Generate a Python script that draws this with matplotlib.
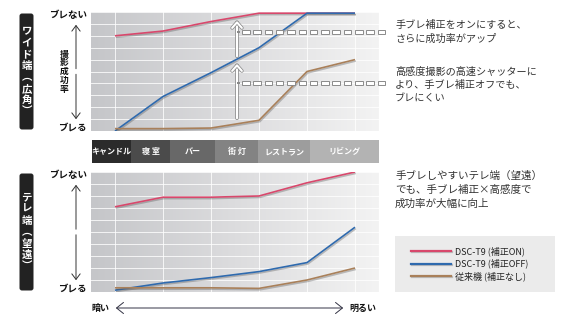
import matplotlib
matplotlib.use("Agg")
import matplotlib.pyplot as plt
import matplotlib.patheffects as pe
from matplotlib.colors import LinearSegmentedColormap
from matplotlib.patches import FancyBboxPatch, Rectangle, FancyArrowPatch
import numpy as np

plt.rcParams['font.family'] = ['Noto Sans CJK JP', 'DejaVu Sans']

# ---------------- data ----------------
scenes = ["キャンドル", "寝 室", "バー", "街 灯", "レストラン", "リビング"]
series_names = ["DSC-T9 (補正ON)", "DSC-T9 (補正OFF)", "従来機 (補正なし)"]
wide_on = [8.0, 8.4, 9.2, 9.9, 9.9, 9.9]
wide_off = [0.0, 2.9, 4.9, 7.0, 9.9, 9.9]
wide_old = [0.2, 0.2, 0.25, 0.9, 5.0, 6.0]
tele_on = [7.1, 7.9, 7.9, 8.0, 9.1, 10.0]
tele_off = [0.15, 0.75, 1.2, 1.7, 2.45, 5.4]
tele_old = [0.35, 0.35, 0.35, 0.3, 1.0, 2.0]

colors = ["#d8486c", "#2f6aae", "#a9805a"]
band_colors = ["#2b2b2b", "#4b4b4b", "#686868", "#838383", "#9d9d9d", "#b3b3b3"]

W, H = 566, 321
fig = plt.figure(figsize=(W / 100, H / 100), dpi=100)
fig.patch.set_facecolor("white")

def rect(l, t, r, b):
    return [l / W, (H - b) / H, (r - l) / W, (b - t) / H]

cmap = LinearSegmentedColormap.from_list("bg", ["#c5c6c9", "#dcdcde", "#f3f3f3"])

def make_plot(box, series):
    ax = fig.add_axes(rect(*box))
    ax.set_xlim(-0.5, 5.5)
    ax.set_ylim(0, 10)
    grad = np.linspace(0, 1, 256).reshape(1, -1)
    ax.imshow(grad, cmap=cmap, aspect="auto", extent=[0, 1, 0, 1],
              transform=ax.transAxes, zorder=0)
    ax.set_xticks(range(6))
    ax.set_yticks(range(11))
    ax.grid(True, color="white", lw=0.7, alpha=0.8)
    ax.tick_params(length=0, labelbottom=False, labelleft=False)
    for s in ax.spines.values():
        s.set_visible(False)
    x = np.arange(6)
    for vals, c in zip(series, colors):
        ax.plot(x, vals, color=c, lw=1.2, zorder=3, solid_capstyle="butt",
                path_effects=[pe.SimpleLineShadow(offset=(0.6, -1.0), shadow_color="#555555", alpha=0.35),
                              pe.Normal()])
    return ax

ax1 = make_plot((91, 12, 379, 131), [wide_on, wide_off, wide_old])
ax2 = make_plot((91, 172, 379, 292), [tele_on, tele_off, tele_old])

# overlay for annotations in pixel coords
ov = fig.add_axes([0, 0, 1, 1], zorder=5)
ov.set_xlim(0, W)
ov.set_ylim(H, 0)
ov.axis("off")
ov.patch.set_alpha(0)

# category band
edges = [92, 131, 170, 215, 258, 310, 379]
for i, name in enumerate(scenes):
    ov.add_patch(Rectangle((edges[i], 140), edges[i + 1] - edges[i], 23,
                           facecolor=band_colors[i], edgecolor="none"))
    ov.text((edges[i] + edges[i + 1]) / 2, 151.5, name, color="white", fontsize=5.8,
            fontweight="bold", ha="center", va="center")

# black side labels
def side_label(top, bot, chars):
    ov.add_patch(FancyBboxPatch((19.5, top + 1.5), 14, bot - top - 3,
                                boxstyle="round,pad=0,rounding_size=2.5",
                                facecolor="#222222", edgecolor="none"))
    n = len(chars)
    step = 11.5
    c = (top + bot) / 2
    start = c - step * (n - 1) / 2
    for i, ch in enumerate(chars):
        ov.text(26.7, start + i * step, ch, color="white", fontsize=7.5, fontweight="bold",
                ha="center", va="center")

side_label(12, 131, ["ワ", "イ", "ド", "端", "︵", "広", "角", "︶"])
side_label(172, 292, ["テ", "レ", "端", "︵", "望", "遠", "︶"])

# y direction labels and arrows
def ylabels(top, bot):
    ov.text(87, top + 3, "ブレない", fontsize=6.8, fontweight="bold", ha="right", va="center", color="#111111")
    ov.text(87, bot - 3, "ブレる", fontsize=6.8, fontweight="bold", ha="right", va="center", color="#111111")
    ov.add_patch(FancyArrowPatch((76, (top + bot) / 2), (76, top + 10), arrowstyle="->,head_length=4,head_width=3",
                                 color="#333333", lw=0.7, mutation_scale=1))
    ov.add_patch(FancyArrowPatch((76, (top + bot) / 2), (76, bot - 9), arrowstyle="->,head_length=4,head_width=3",
                                 color="#333333", lw=0.7, mutation_scale=1))

ylabels(12, 131)
ylabels(172, 292)
for i, ch in enumerate("撮影成功率"):
    ov.text(64.5, 54 + i * 8.8, ch, fontsize=6.3, fontweight="bold", ha="center", va="center", color="#111111")

# x direction arrow
ov.add_patch(FancyArrowPatch((113, 308), (346, 308), arrowstyle="<->,head_length=5,head_width=4",
                             color="#333344", lw=0.7, mutation_scale=1))
ov.text(91, 308, "暗い", fontsize=6.5, fontweight="bold", ha="left", va="center", color="#111111")
ov.text(349, 308, "明るい", fontsize=6.5, fontweight="bold", ha="left", va="center", color="#111111")

# white arrows in wide chart
for y0, y1 in [(59, 18), (121, 61)]:
    ov.add_patch(FancyArrowPatch((237, y0), (237, y1), arrowstyle="->,head_length=4,head_width=3.5",
                                 color="white", lw=1.5, mutation_scale=1,
                                 path_effects=[pe.Stroke(linewidth=2.6, foreground="#8a8a8a"), pe.Normal()]))

# dashed leader lines (hollow dashes)
for y in [32, 83]:
    ov.add_patch(Rectangle((237, y - 0.6), 3, 1.2, facecolor="#8a8a8a", edgecolor="none"))
    xs = 242.0
    while xs + 7.5 <= 392:
        ov.add_patch(Rectangle((xs, y - 1.6), 7.5, 3.2, facecolor="white",
                               edgecolor="#8a8a8a", lw=0.7))
        xs += 11.3

txt = dict(fontsize=7.3, color="#333333", ha="left", va="center")
ov.text(395, 32, "手ブレ補正をオンにすると、\nさらに成功率がアップ", linespacing=1.45, **txt)
ov.text(395, 85, "高感度撮影の高速シャッターに\nより、手ブレ補正オフでも、\nブレにくい", linespacing=1.45, **txt)
ov.text(395, 190, "手ブレしやすいテレ端（望遠）\nでも、手ブレ補正×高感度で\n成功率が大幅に向上", linespacing=1.45,
        **{**txt, "fontsize": 7.6})

# legend box
ov.add_patch(Rectangle((395, 236), 160, 56, facecolor="#ebebeb", edgecolor="none"))
for i, (name, c) in enumerate(zip(series_names, colors)):
    y = 251 + i * 12.5
    ov.plot([411, 451], [y, y], color=c, lw=1.6,
            path_effects=[pe.SimpleLineShadow(offset=(0.5, -0.8), shadow_color="#777777", alpha=0.4), pe.Normal()])
    ov.text(455, y, name, fontsize=6.5, color="#222222", ha="left", va="center")

fig.savefig("out.png", dpi=100)
